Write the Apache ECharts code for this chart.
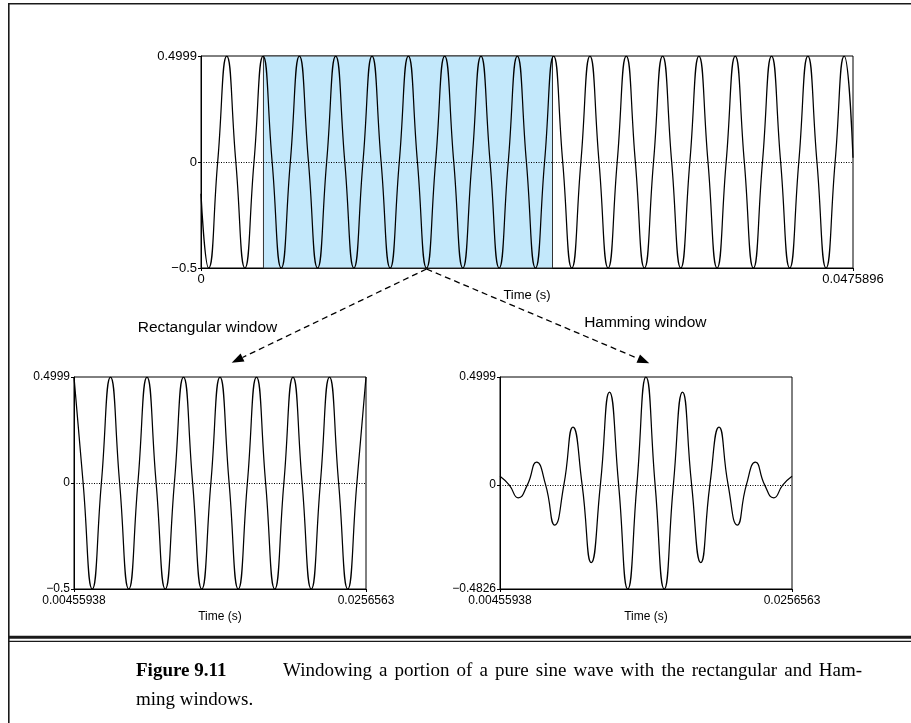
<!DOCTYPE html>
<html><head><meta charset="utf-8">
<script src="https://cdn.jsdelivr.net/npm/echarts@6/dist/echarts.min.js"></script>
<style>html,body{margin:0;padding:0;background:#fff}#c{width:911px;height:723px}</style>
</head><body><div id="c"></div>
<script>
// ---- Data (extrema and zero crossings of each wave) ----
const topTime = [0, 0.0005545, 0.00121725, 0.00188, 0.00254275, 0.0032055, 0.00386825, 0.004531, 0.00519375,
  0.0058565, 0.00651925, 0.007182, 0.00784475, 0.0085075, 0.00917025, 0.009833, 0.01049575, 0.0111585,
  0.01182125, 0.012484, 0.01314675, 0.0138095, 0.01447225, 0.015135, 0.01579775, 0.0164605, 0.01712325,
  0.017786, 0.01844875, 0.0191115, 0.01977425, 0.020437, 0.02109975, 0.0217625, 0.02242525, 0.023088,
  0.02375075, 0.0244135, 0.02507625, 0.025739, 0.02640175, 0.0270645, 0.02772725, 0.02839, 0.02905275,
  0.0297155, 0.03037825, 0.031041, 0.03170375, 0.0323665, 0.03302925, 0.033692, 0.03435475, 0.0350175,
  0.03568025, 0.036343, 0.03700575, 0.0376685, 0.03833125, 0.038994, 0.03965675, 0.0403195, 0.04098225,
  0.041645, 0.04230775, 0.0429705, 0.04363325, 0.044296, 0.04495875, 0.0456215, 0.04628425, 0.046947, 0.0475896];
const topValue = [-0.15, -0.5, 0, 0.4999, 0, -0.5, 0, 0.4999, 0,
  -0.5, 0, 0.4999, 0, -0.5, 0, 0.4999, 0, -0.5,
  0, 0.4999, 0, -0.5, 0, 0.4999, 0, -0.5, 0,
  0.4999, 0, -0.5, 0, 0.4999, 0, -0.5, 0, 0.4999,
  0, -0.5, 0, 0.4999, 0, -0.5, 0, 0.4999, 0,
  -0.5, 0, 0.4999, 0, -0.5, 0, 0.4999, 0, -0.5,
  0, 0.4999, 0, -0.5, 0, 0.4999, 0, -0.5, 0,
  0.4999, 0, -0.5, 0, 0.4999, 0, -0.5, 0, 0.4999, 0.02];

const winTime = [0.00455938, 0.00521866, 0.00587794, 0.00653722, 0.0071965, 0.00785578, 0.00851506,
  0.00917434, 0.00983362, 0.0104929, 0.01115218, 0.01181146, 0.01247074, 0.01313002, 0.0137893,
  0.01444858, 0.01510786, 0.01576714, 0.01642642, 0.0170857, 0.01774498, 0.01840426, 0.01906354,
  0.01972282, 0.0203821, 0.02104138, 0.02170066, 0.02235994, 0.02301922, 0.0236785, 0.02433778,
  0.02499706, 0.0256563];
const rectValue = [0.4999, 0, -0.5, 0, 0.4999, 0, -0.5,
  0, 0.4999, 0, -0.5, 0, 0.4999, 0, -0.5,
  0, 0.4999, 0, -0.5, 0, 0.4999, 0, -0.5,
  0, 0.4999, 0, -0.5, 0, 0.4999, 0, -0.5,
  0, 0.4999];
const hammingValue = [0.04, 0, -0.06, 0, 0.105, 0, -0.186,
  0, 0.268, 0, -0.36, 0, 0.43, 0, -0.4826,
  0, 0.4999, 0, -0.4826, 0, 0.43, 0, -0.36,
  0, 0.268, 0, -0.186, 0, 0.105, 0, -0.06,
  0, 0.04];

const windowSpan = [0.00455938, 0.0256563];
const arrowAnchorTime = 0.0164605;   // trough where the two dashed arrows start
const topXTicks = [0, 0.0475896];
const topXLabels = ['0', '0.0475896'];
const topYTicks = [-0.5, 0, 0.4999];
const topYLabels = ['\u22120.5', '0', '0.4999'];
const winXTicks = [0.00455938, 0.0256563];
const winXLabels = ['0.00455938', '0.0256563'];
const rectYTicks = [-0.5, 0, 0.4999];
const rectYLabels = ['\u22120.5', '0', '0.4999'];
const hamYTicks = [-0.4826, 0, 0.4999];
const hamYLabels = ['\u22120.4826', '0', '0.4999'];
const axisName = 'Time (s)';
const panelTitles = ['Rectangular window', 'Hamming window'];
const captionBold = 'Figure 9.11';
const captionLine1 = 'Windowing a portion of a pure sine wave with the rectangular and Ham-';
const captionLine2 = 'ming windows.';

// ---- Chart ----
const SANS = '"Liberation Sans", Arial, Helvetica, sans-serif';
const SERIF = '"Liberation Serif", "Times New Roman", serif';
const chart = echarts.init(document.getElementById('c'), null, {renderer: 'canvas'});

function pick(ticks, labels) {
  return v => { const i = ticks.findIndex(t => Math.abs(t - v) < 1e-9); return i < 0 ? '' : labels[i]; };
}
function xAx(gi, ticks, labels, fs, margin, gap) {
  return {
    type: 'value', gridIndex: gi, min: ticks[0], max: ticks[ticks.length - 1],
    axisLine: {show: true, onZero: false, lineStyle: {color: '#000', width: 1}},
    axisTick: {show: true, customValues: ticks, length: 3, lineStyle: {color: '#000', width: 1}},
    axisLabel: {customValues: ticks, formatter: pick(ticks, labels), fontSize: fs, color: '#000',
      margin: margin, fontFamily: SANS, showMinLabel: true, showMaxLabel: true, hideOverlap: false},
    splitLine: {show: false},
    name: axisName, nameLocation: 'middle', nameGap: gap, nameMoveOverlap: false,
    nameTextStyle: {fontSize: fs, color: '#000', fontFamily: SANS}
  };
}
function yAx(gi, ticks, labels, fs, margin) {
  return {
    type: 'value', gridIndex: gi, min: ticks[0], max: ticks[ticks.length - 1],
    axisLine: {show: true, onZero: false, lineStyle: {color: '#000', width: 1}},
    axisTick: {show: true, customValues: ticks, length: 3, lineStyle: {color: '#000', width: 1}},
    axisLabel: {customValues: ticks, formatter: pick(ticks, labels), fontSize: fs, color: '#000',
      margin: margin, fontFamily: SANS, showMinLabel: true, showMaxLabel: true, hideOverlap: false},
    splitLine: {show: false}
  };
}
const zeroLine = {silent: true, symbol: 'none', label: {show: false}, animation: false,
  lineStyle: {type: [1, 1.5], color: '#000', width: 1}, data: [{yAxis: 0}]};
function wave(xi, times, values, extra) {
  return Object.assign({
    type: 'line', xAxisIndex: xi, yAxisIndex: xi, data: times.map((t, i) => [t, values[i]]),
    smooth: 0.55, symbol: 'none', clip: true, z: 5,
    lineStyle: {color: '#000', width: 1.25}, markLine: zeroLine
  }, extra || {});
}

const option = {
  animation: false,
  backgroundColor: '#fff',
  grid: [
    {left: 201, top: 56, width: 652, height: 212, show: true, borderColor: '#000', borderWidth: 1, backgroundColor: 'transparent'},
    {left: 74, top: 377, width: 292, height: 212, show: true, borderColor: '#000', borderWidth: 1, backgroundColor: 'transparent'},
    {left: 500, top: 377, width: 292, height: 212, show: true, borderColor: '#000', borderWidth: 1, backgroundColor: 'transparent'}
  ],
  xAxis: [xAx(0, topXTicks, topXLabels, 13, 5, 21), xAx(1, winXTicks, winXLabels, 12, 6, 22), xAx(2, winXTicks, winXLabels, 12, 6, 22)],
  yAxis: [yAx(0, topYTicks, topYLabels, 13, 4), yAx(1, rectYTicks, rectYLabels, 12, 4), yAx(2, hamYTicks, hamYLabels, 12, 4)],
  series: [
    wave(0, topTime, topValue, {
      markArea: {silent: true, z: 1,
        itemStyle: {color: '#c3e8fb', borderColor: '#333', borderWidth: 1},
        data: [[{xAxis: windowSpan[0], yAxis: topYTicks[0]}, {xAxis: windowSpan[1], yAxis: topYTicks[2]}]]}
    }),
    wave(1, winTime, rectValue),
    wave(2, winTime, hammingValue)
  ]
};
chart.setOption(option);

// ---- Annotations: frame, arrows, titles, caption ----
const start = chart.convertToPixel({xAxisIndex: 0, yAxisIndex: 0}, [arrowAnchorTime, topYTicks[0]]);
function arrow(sx, sy, tx, ty) {
  const dx = tx - sx, dy = ty - sy, L = Math.hypot(dx, dy), ux = dx / L, uy = dy / L;
  const hl = 12, hw = 4.5, bx = tx - ux * hl, by = ty - uy * hl;
  return [
    {type: 'line', shape: {x1: sx, y1: sy, x2: bx, y2: by}, style: {stroke: '#000', lineWidth: 1.3, lineDash: [6, 4]}, z: 20},
    {type: 'polygon', shape: {points: [[tx, ty], [bx - uy * hw, by + ux * hw], [bx + uy * hw, by - ux * hw]]}, style: {fill: '#000'}, z: 20}
  ];
}
const graphics = [
  {type: 'rect', shape: {x: 8, y: 3, width: 1.6, height: 720}, style: {fill: '#1a1a1a'}, z: 20},
  {type: 'rect', shape: {x: 8, y: 3, width: 903, height: 1.6}, style: {fill: '#1a1a1a'}, z: 20},
  {type: 'rect', shape: {x: 9, y: 635.7, width: 902, height: 3}, style: {fill: '#1a1a1a'}, z: 20},
  {type: 'rect', shape: {x: 9, y: 640.7, width: 902, height: 1.2}, style: {fill: '#1a1a1a'}, z: 20},
  {type: 'text', x: 207.5, y: 327.7, style: {text: panelTitles[0], fill: '#000', font: '15.5px ' + SANS, align: 'center', verticalAlign: 'middle'}, z: 20},
  {type: 'text', x: 645.3, y: 322.7, style: {text: panelTitles[1], fill: '#000', font: '15.5px ' + SANS, align: 'center', verticalAlign: 'middle'}, z: 20},
  ...arrow(start[0], start[1] + 1, 231.7, 362.7),
  ...arrow(start[0], start[1] + 1, 649.3, 363.3)
];
// caption (justified first line)
const capFont = '19px ' + SERIF;
const capBold = 'bold 19px ' + SERIF;
graphics.push({type: 'text', x: 136, y: 671, style: {text: captionBold, fill: '#000', font: capBold, verticalAlign: 'middle'}, z: 20});
const cv = document.createElement('canvas').getContext('2d');
cv.font = capFont;
const words = captionLine1.split(' ');
const widths = words.map(w => cv.measureText(w).width);
const x0 = 283, x1 = 862;
const gap = (x1 - x0 - widths.reduce((a, b) => a + b, 0)) / (words.length - 1);
let cx = x0;
words.forEach((w, i) => {
  graphics.push({type: 'text', x: cx, y: 671, style: {text: w, fill: '#000', font: capFont, verticalAlign: 'middle'}, z: 20});
  cx += widths[i] + gap;
});
graphics.push({type: 'text', x: 136, y: 700, style: {text: captionLine2, fill: '#000', font: capFont, verticalAlign: 'middle'}, z: 20});
chart.setOption({graphic: graphics});
</script></body></html>
